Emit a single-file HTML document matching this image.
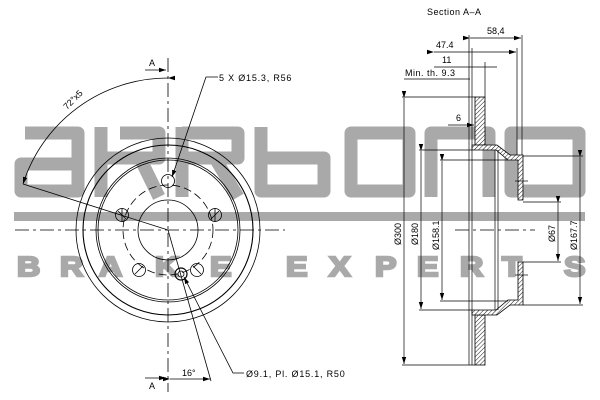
<!DOCTYPE html>
<html><head><meta charset="utf-8"><style>
html,body{margin:0;padding:0;background:#fff;width:600px;height:400px;overflow:hidden}
svg{display:block}
text{font-family:"Liberation Sans",sans-serif}
.bx{font-size:28px;font-weight:bold;fill:#a9a9a9;stroke:#a9a9a9;stroke-width:2.4}
</style></head><body>
<svg width="600" height="400" viewBox="0 0 600 400" xmlns="http://www.w3.org/2000/svg">
<defs>
<pattern id="h" width="3" height="3" patternUnits="userSpaceOnUse" patternTransform="rotate(45)">
<rect width="3" height="3" fill="#fff"/><line x1="0" y1="0" x2="0" y2="3" stroke="#000" stroke-width="0.9"/></pattern>
<marker id="ar" markerWidth="8" markerHeight="6" refX="7" refY="3" orient="auto" markerUnits="userSpaceOnUse"><path d="M0,0.8 L7,3 L0,5.2z" fill="#000"/></marker>
</defs>

<g fill="none" stroke="#a9a9a9" stroke-width="13" stroke-linejoin="round">
<path d="M25,133 H78 V191 H21 V164 H78"/>
<path d="M101,127 V197 M101,158 H159 V133 H120 M140,158 L159,197"/>
<path d="M182,127 V197 M182,133 H238 V158 H182 M215,158 L238,197"/>
<path d="M261,127 V191 H324 V158 H261"/>
<path d="M351,133 H409 V191 H351 Z"/>
<path d="M431,197 V133 H489 V197"/>
<path d="M511,133 H579 V191 H511 Z"/>
</g>
<rect x="14" y="212" width="571" height="9" fill="#a9a9a9"/>
<g class="bx">
<text transform="translate(17,276) scale(1.15,1)">B</text>
<text transform="translate(60,276) scale(1.15,1)">R</text>
<text transform="translate(99,276) scale(1.15,1)">A</text>
<text transform="translate(155,276) scale(1.15,1)">K</text>
<text transform="translate(210,276) scale(1.15,1)">E</text>
<text transform="translate(286,276) scale(1.15,1)">E</text>
<text transform="translate(329,276) scale(1.15,1)">X</text>
<text transform="translate(375,276) scale(1.15,1)">P</text>
<text transform="translate(417,276) scale(1.15,1)">E</text>
<text transform="translate(460,276) scale(1.15,1)">R</text>
<text transform="translate(502,276) scale(1.15,1)">T</text>
<text transform="translate(564,276) scale(1.15,1)">S</text>
</g>

<g fill="none" stroke="#000" stroke-width="0.8">
<line x1="15" y1="230" x2="285" y2="230" stroke-dasharray="14,4,3,4"/>
<line x1="168" y1="58" x2="168" y2="392" stroke-dasharray="14,4,3,4"/>
<circle cx="168" cy="230" r="92"/>
<circle cx="168" cy="230" r="85" stroke-width="1.1"/>
<circle cx="168" cy="230" r="72"/>
<circle cx="168" cy="230" r="70"/>
<circle cx="168" cy="230" r="45" stroke-dasharray="8,4"/>
<circle cx="168" cy="230" r="30"/>
<circle cx="168" cy="181" r="6.5"/>
<circle cx="215" cy="215" r="6.5"/><path d="M211,219 L219,211 M215,208 V222"/>
<circle cx="122" cy="215" r="6.5"/><path d="M118,211 L126,219 M122,208 V222"/>
<circle cx="197" cy="270" r="6.5"/><path d="M193,266 L201,274"/>
<circle cx="139" cy="270" r="6.5"/><path d="M143,266 L135,274"/>
<circle cx="181" cy="274" r="6" stroke-width="1.2"/><circle cx="181" cy="274" r="3"/>
<path d="M168,78 A152,152 0 0 0 23,184" marker-start="url(#ar)" marker-end="url(#ar)"/>
<line x1="23" y1="184" x2="168" y2="230"/>
<line x1="145" y1="70" x2="166" y2="70" marker-end="url(#ar)"/>
<line x1="145" y1="378" x2="166" y2="378" marker-end="url(#ar)"/>
<path d="M218,77 H206 L172,177" marker-end="url(#ar)"/>
<path d="M244,373 H233 L184,277" marker-end="url(#ar)"/>
<line x1="168" y1="230" x2="211" y2="381"/>
<path d="M170,379 H210" marker-start="url(#ar)" marker-end="url(#ar)"/>
</g>
<g font-size="9" fill="#000">
<text x="149" y="66">A</text>
<text x="149" y="389">A</text>
<text x="219" y="81" letter-spacing="0.8">5 X Ø15.3, R56</text>
<text x="246" y="377" letter-spacing="0.8">Ø9.1, Pl. Ø15.1, R50</text>
<text x="182" y="376">16°</text>
<text x="0" y="0" transform="translate(67,110) rotate(-45)">72°x5</text>
</g>

<text x="427" y="15" font-size="9" letter-spacing="0.5">Section A–A</text>
<g fill="url(#h)" stroke="#000" stroke-width="0.8">
<rect x="475" y="97" width="10" height="48"/>
<rect x="475" y="315" width="10" height="50"/>
<path d="M472,145 H497 L510,155 H523 V200 H518 V160 H508 L496,150 H472 Z"/>
<path d="M472,315 H497 L510,305 H523 V262 H518 V300 H508 L496,310 H472 Z"/>
</g>
<g fill="none" stroke="#000" stroke-width="0.7">
<line x1="469" y1="35" x2="469" y2="365"/>
<line x1="472" y1="48" x2="472" y2="365"/>
<line x1="485" y1="62" x2="485" y2="97"/>
<line x1="495" y1="150" x2="495" y2="310"/>
<line x1="498" y1="150" x2="498" y2="310"/>
<line x1="522" y1="35" x2="522" y2="155"/>
<line x1="517" y1="48" x2="517" y2="155"/>
<line x1="470" y1="38" x2="521" y2="38" marker-start="url(#ar)" marker-end="url(#ar)"/>
<line x1="434" y1="52" x2="516" y2="52" marker-start="url(#ar)" marker-end="url(#ar)"/>
<line x1="434" y1="67" x2="497" y2="67"/>
<line x1="404" y1="79" x2="470" y2="79"/>
<line x1="448" y1="125" x2="474" y2="125" marker-end="url(#ar)"/>
<line x1="402" y1="97" x2="475" y2="97"/><line x1="402" y1="365" x2="475" y2="365"/>
<line x1="404" y1="98" x2="404" y2="364" marker-start="url(#ar)" marker-end="url(#ar)"/>
<line x1="419" y1="150" x2="472" y2="150"/><line x1="419" y1="310" x2="472" y2="310"/>
<line x1="421" y1="151" x2="421" y2="309" marker-start="url(#ar)" marker-end="url(#ar)"/>
<line x1="440" y1="160" x2="508" y2="160"/><line x1="440" y1="301" x2="508" y2="301"/>
<line x1="442" y1="161" x2="442" y2="300" marker-start="url(#ar)" marker-end="url(#ar)"/>
<line x1="523" y1="202" x2="561" y2="202"/><line x1="523" y1="262" x2="561" y2="262"/>
<line x1="558" y1="203" x2="558" y2="261" marker-start="url(#ar)" marker-end="url(#ar)"/>
<line x1="523" y1="156" x2="583" y2="156"/><line x1="523" y1="305" x2="583" y2="305"/>
<line x1="580" y1="157" x2="580" y2="304" marker-start="url(#ar)" marker-end="url(#ar)"/>
<line x1="455" y1="230" x2="535" y2="230" stroke-dasharray="14,4,3,4"/>
<line x1="515" y1="181" x2="528" y2="181"/><line x1="515" y1="275" x2="528" y2="275"/>
</g>
<g font-size="9" fill="#000">
<text x="487" y="34">58,4</text>
<text x="436" y="48">47.4</text>
<text x="442" y="63">11</text>
<text x="405" y="76" letter-spacing="0.5">Min. th. 9.3</text>
<text x="456" y="121">6</text>
<text transform="translate(401,245) rotate(-90)">Ø300</text>
<text transform="translate(418,245) rotate(-90)">Ø180</text>
<text transform="translate(439,250) rotate(-90)">Ø158.1</text>
<text transform="translate(555,242) rotate(-90)">Ø67</text>
<text transform="translate(577,250) rotate(-90)">Ø167.7</text>
</g>
</svg>
</body></html>
